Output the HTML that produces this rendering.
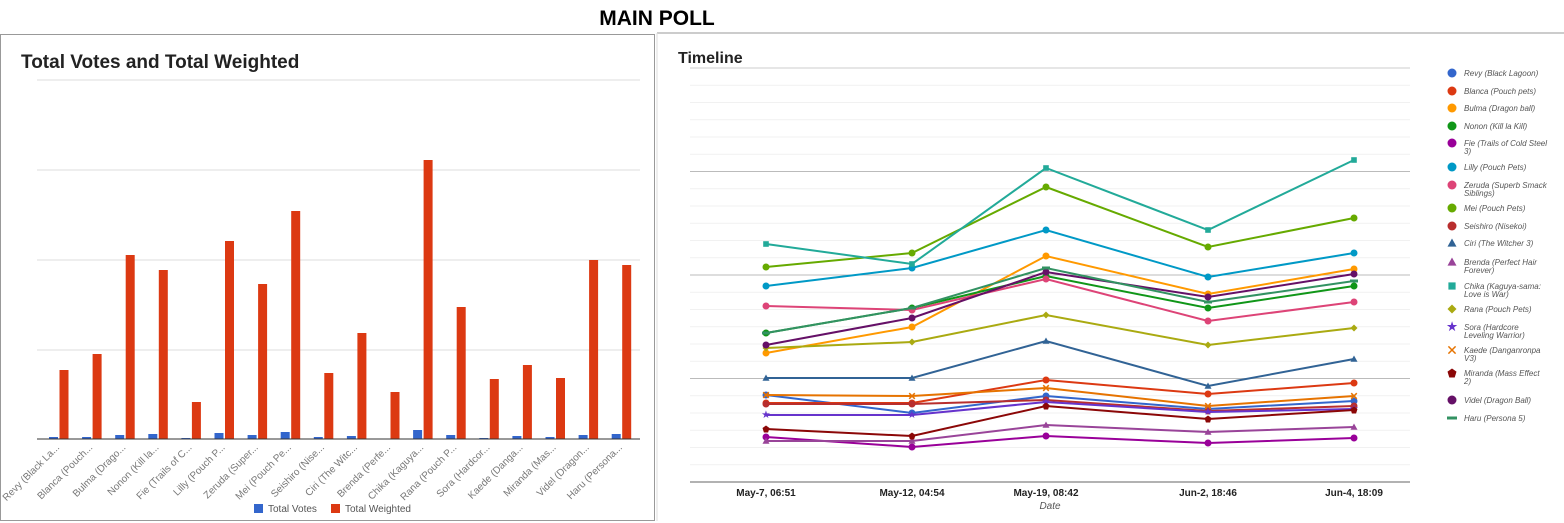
<!DOCTYPE html>
<html><head><meta charset="utf-8"><style>
body{margin:0;background:#fff;font-family:"Liberation Sans",sans-serif;}
svg{display:block}
</style></head><body>
<svg id="s" width="1564" height="523" xmlns="http://www.w3.org/2000/svg" font-family="Liberation Sans, sans-serif">
<text x="657" y="25" text-anchor="middle" font-size="21" font-weight="bold" fill="#000">MAIN POLL</text>
<rect x="0.5" y="34.5" width="654" height="486" fill="none" stroke="#999"/>
<line x1="657" y1="33" x2="1564" y2="33" stroke="#999"/>
<line x1="657" y1="33" x2="657" y2="521" stroke="#ddd"/>
<text x="21" y="68" font-size="19" font-weight="bold" fill="#222">Total Votes and Total Weighted</text>
<text x="678" y="63" font-size="16" font-weight="bold" fill="#222">Timeline</text>
<g id="g"></g>
</svg>
<script>
const g=document.getElementById('g');let h='';
[80,170,260,350].forEach(y=>h+=`<line x1="37" y1="${y}" x2="640" y2="${y}" stroke="#ddd"/>`);
const names=["Revy (Black La...","Blanca (Pouch...","Bulma (Drago...","Nonon (Kill la...","Fie (Trails of C...","Lilly (Pouch P...","Zeruda (Super...","Mei (Pouch Pe...","Seishiro (Nise...","Ciri (The Witc...","Brenda (Perfe...","Chika (Kaguya...","Rana (Pouch P...","Sora (Hardcor...","Kaede (Danga...","Miranda (Mas...","Videl (Dragon...","Haru (Persona..."];
const red=[370,354,255,270,402,241,284,211,373,333,392,160,307,379,365,378,260,265];
const blue=[437,437,435,434,438,433,435,432,437,436,439,430,435,438,436,437,435,434];
for(let i=0;i<18;i++){const c=64+i*33.1;
h+=`<rect x="${c-4.5}" y="${red[i]}" width="9" height="${439-red[i]}" fill="#dc3912"/>`;
h+=`<rect x="${c-15}" y="${blue[i]}" width="9" height="${439-blue[i]}" fill="#3366cc"/>`;
h+=`<text transform="translate(${c-4},448) rotate(-45)" text-anchor="end" font-size="10" fill="#777">${names[i]}</text>`;}
h+=`<line x1="37" y1="439" x2="640" y2="439" stroke="#333"/>`;
h+=`<rect x="254" y="504" width="9" height="9" fill="#3366cc"/><text x="268" y="512" font-size="10" fill="#555">Total Votes</text>`;
h+=`<rect x="331" y="504" width="9" height="9" fill="#dc3912"/><text x="345" y="512" font-size="10" fill="#555">Total Weighted</text>`;
for(let k=0;k<24;k++){const y=68+k*17.25;const dark=k%6==0;
h+=`<line x1="690" y1="${y}" x2="1410" y2="${y}" stroke="${k==0?'#ccc':(dark?'#bbb':'#f1f1f1')}"/>`;}
h+=`<line x1="690" y1="482" x2="1410" y2="482" stroke="#999" stroke-width="1.5"/>`;
const xs=[766,912,1046,1208,1354],lab=["May-7, 06:51","May-12, 04:54","May-19, 08:42","Jun-2, 18:46","Jun-4, 18:09"];
xs.forEach((x,i)=>h+=`<text x="${x}" y="496" text-anchor="middle" font-size="10" font-weight="bold" fill="#222">${lab[i]}</text>`);
h+=`<text x="1050" y="509" text-anchor="middle" font-size="10" font-style="italic" fill="#555">Date</text>`;
const S=[
["Revy (Black Lagoon)","#3366cc",[395,413,396,409,401],"c",73],
["Blanca (Pouch pets)","#dc3912",[403,403,380,394,383],"c",91],
["Bulma (Dragon ball)","#ff9900",[353,327,256,294,269],"c",108],
["Nonon (Kill la Kill)","#109618",[333,308,276,308,286],"c",126],
["Fie (Trails of Cold Steel|3)","#990099",[437,447,436,443,438],"c",143],
["Lilly (Pouch Pets)","#0099c6",[286,268,230,277,253],"c",167],
["Zeruda (Superb Smack|Siblings)","#dd4477",[306,310,279,321,302],"c",185],
["Mei (Pouch Pets)","#66aa00",[267,253,187,247,218],"c",208],
["Seishiro (Nisekoi)","#b82e2e",[404,404,400,411,406],"c",226],
["Ciri (The Witcher 3)","#316395",[378,378,341,386,359],"t",243],
["Brenda (Perfect Hair|Forever)","#994499",[441,441,425,432,427],"t",262],
["Chika (Kaguya-sama:|Love is War)","#22aa99",[244,264,168,230,160],"s",286],
["Rana (Pouch Pets)","#aaaa11",[348,342,315,345,328],"d",309],
["Sora (Hardcore|Leveling Warrior)","#6633cc",[415,415,402,412,409],"st",327],
["Kaede (Danganronpa|V3)","#e67300",[395,396,388,406,396],"x",350],
["Miranda (Mass Effect|2)","#8b0707",[429,436,406,419,410],"p",373],
["Videl (Dragon Ball)","#651067",[345,318,272,297,274],"c",400],
["Haru (Persona 5)","#329262",[333,308,268,302,281],"l",418]];
function mk(t,x,y,c,r){
 if(t=="c")return `<circle cx="${x}" cy="${y}" r="${r}" fill="${c}"/>`;
 if(t=="t")return `<polygon points="${x},${y-r} ${x+r},${y+r*0.8} ${x-r},${y+r*0.8}" fill="${c}"/>`;
 if(t=="s")return `<rect x="${x-r*0.8}" y="${y-r*0.8}" width="${r*1.6}" height="${r*1.6}" fill="${c}"/>`;
 if(t=="d")return `<polygon points="${x},${y-r} ${x+r},${y} ${x},${y+r} ${x-r},${y}" fill="${c}"/>`;
 if(t=="st")return `<text x="${x}" y="${y+r*0.9}" text-anchor="middle" font-size="${r*3}" fill="${c}">★</text>`;
 if(t=="x")return `<path d="M${x-r*.8} ${y-r*.8}L${x+r*.8} ${y+r*.8}M${x+r*.8} ${y-r*.8}L${x-r*.8} ${y+r*.8}" stroke="${c}" stroke-width="1.5"/>`;
 if(t=="p")return `<polygon points="${x},${y-r} ${x+r},${y-r*.3} ${x+r*.6},${y+r} ${x-r*.6},${y+r} ${x-r},${y-r*.3}" fill="${c}"/>`;
 if(t=="l")return `<rect x="${x-r}" y="${y-1.5}" width="${r*2}" height="3" fill="${c}"/>`;
}
S.forEach(s=>{const [n,c,ys,t,ly]=s;
 h+=`<polyline points="${xs.map((x,i)=>x+','+ys[i]).join(' ')}" fill="none" stroke="${c}" stroke-width="2"/>`;
 xs.forEach((x,i)=>h+=mk(t,x,ys[i],c,t=="l"?4:3.5));
 h+=mk(t,1452,ly,c,t=="l"?5:4.5);
 const p=n.split('|');
 p.forEach((q,j)=>h+=`<text x="1464" y="${ly+3+j*8}" font-size="8" font-style="italic" fill="#555">${q}</text>`);
});
g.innerHTML=h;
</script>
</body></html>
